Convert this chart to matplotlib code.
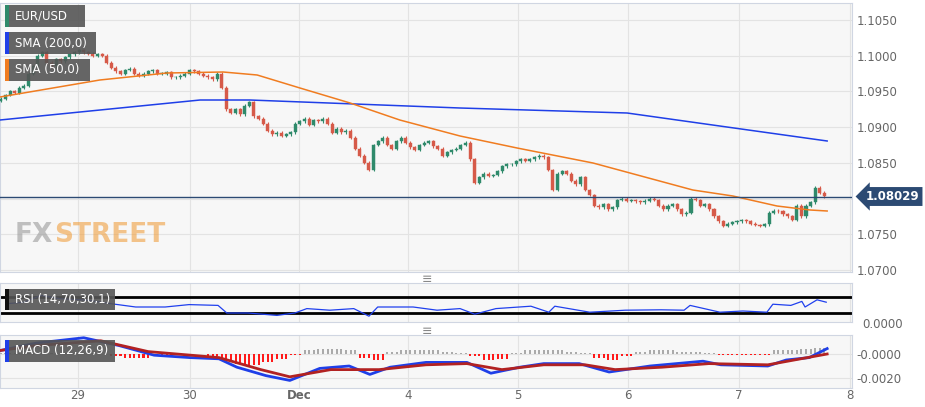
import numpy as np
import matplotlib.pyplot as plt
from matplotlib.patches import Rectangle

# hourly closes, EUR/USD
closes = [1.0940, 1.0945, 1.0950, 1.0948, 1.0955, 1.0958, 1.0975, 1.0985, 1.1000, 1.1005,
          1.0990, 1.0985, 1.0995, 1.0992, 1.0998, 1.1002, 1.1005, 1.1008, 1.1005, 1.1003,
          1.1000, 1.1002, 1.1000, 1.0990, 1.0983, 1.0978, 1.0975, 1.0980, 1.0982, 1.0975,
          1.0972, 1.0975, 1.0978, 1.0980, 1.0975, 1.0975, 1.0977, 1.0970, 1.0970, 1.0972,
          1.0975, 1.0980, 1.0978, 1.0975, 1.0972, 1.0970, 1.0967, 1.0975, 1.0955, 1.0925,
          1.0920, 1.0925, 1.0918, 1.0930, 1.0935, 1.0915, 1.0912, 1.0905, 1.0895, 1.0890,
          1.0892, 1.0888, 1.0890, 1.0893, 1.0905, 1.0908, 1.0912, 1.0903, 1.0910, 1.0908,
          1.0912, 1.0905, 1.0892, 1.0898, 1.0893, 1.0895, 1.0885, 1.0870, 1.0860, 1.0850,
          1.0840, 1.0875, 1.0880, 1.0885, 1.0875, 1.0870, 1.0880, 1.0885, 1.0878, 1.0872,
          1.0868, 1.0875, 1.0878, 1.0880, 1.0873, 1.0870, 1.0860, 1.0865, 1.0868, 1.0870,
          1.0875, 1.0878, 1.0855, 1.0822, 1.0830, 1.0835, 1.0832, 1.0833, 1.0838, 1.0845,
          1.0848, 1.0848, 1.0852, 1.0855, 1.0853, 1.0855, 1.0858, 1.0860, 1.0858, 1.0840,
          1.0812, 1.0835, 1.0838, 1.0835, 1.0825, 1.0820, 1.0830, 1.0812, 1.0805, 1.0790,
          1.0788, 1.0792, 1.0785, 1.0788, 1.0798, 1.0800, 1.0797, 1.0798, 1.0796, 1.0795,
          1.0797, 1.0800, 1.0798, 1.0790, 1.0785, 1.0790, 1.0792, 1.0785, 1.0778, 1.0780,
          1.0800, 1.0798, 1.0790, 1.0792, 1.0785, 1.0775, 1.0768, 1.0762, 1.0765, 1.0767,
          1.0768, 1.0770, 1.0768, 1.0765, 1.0763, 1.0762, 1.0764, 1.0780, 1.0783, 1.0782,
          1.0778, 1.0775, 1.0770, 1.0790, 1.0775, 1.0790, 1.0795, 1.0815, 1.0808, 1.0803]
first_open = 1.0937
last_price = 1.08029

sma50_x = [-0.2, 21.5, 36.1, 48.3, 55.7, 65, 75.9, 86.7, 99.8, 112.2, 128.7, 150.4, 159.1, 168.7, 175.9, 179.6]
sma50_y = [1.09422, 1.0966, 1.09758, 1.09772, 1.0973, 1.09548, 1.09338, 1.0910, 1.08876, 1.08708,
           1.08498, 1.0812, 1.08036, 1.07896, 1.0784, 1.07826]
sma200_x = [-0.2, 43.3, 54.1, 99.8, 136.1, 157.8, 179.6]
sma200_y = [1.0910, 1.0938, 1.0938, 1.09268, 1.09198, 1.09002, 1.08806]

rsi_x = [1.1, 5, 8.7, 12.6, 18.9, 24.1, 29.3, 35.7, 40.9, 47.2, 49.1, 53.7, 60, 63.9, 66.5, 71.5,
         76.7, 80, 81.9, 89.6, 94.8, 99.8, 103, 107.6, 115.2, 119.1, 120.4, 128, 135.7, 143.5,
         148.5, 149.8, 156.3, 161.3, 166.5, 167.8, 171.7, 174.1, 174.8, 177.4, 179.4]
rsi_y = [53, 57, 74, 66, 62, 53, 45, 45, 51, 49, 30, 30, 24, 30, 41, 37, 41, 22, 45, 45, 37, 41,
         27, 41, 47, 32, 47, 32, 37, 38, 37, 49, 32, 35, 32, 52, 49, 59, 45, 63, 57]

macd_x = [0, 7.6, 18, 25.7, 33.3, 41.1, 47.4, 51.3, 57.6, 62.8, 69.3, 75.7, 80.2, 84.6, 92.4,
          101.3, 106.5, 112.8, 118, 125.7, 132.2, 141.1, 152.6, 156.5, 166.7, 170.7, 175.7, 179.6]
macd_y = [0.0003, 0.0009, 0.00135, 0.0007, -0.0001, -0.0003, -0.0004, -0.0011, -0.0018, -0.0022,
          -0.0012, -0.0010, -0.0017, -0.0011, -0.0007, -0.0007, -0.0016, -0.0011, -0.0008, -0.0008,
          -0.0015, -0.0010, -0.0006, -0.0009, -0.0010, -0.0005, -0.0003, 0.00045]
signal_x = [0, 7.6, 21.7, 32, 47.4, 56.5, 62.8, 71.7, 82.2, 92.4, 101.3, 108.9, 118, 127, 133.5,
            143.7, 153.9, 166.7, 179.6]
signal_y = [0.0003, 0.0007, 0.0011, 0.0002, -0.0003, -0.0013, -0.0019, -0.0013, -0.0013, -0.0009,
            -0.0008, -0.0013, -0.0009, -0.0009, -0.0013, -0.0011, -0.0008, -0.0009, 0.0]
# histogram, one value per 3 hours
hist3 = [0.0001, 0.0001, 0.0001, 0.00005, 0.0001, 0.0001, 0.00005, 0.0,
         -0.0002, -0.0003, -0.0003, -0.0002, -0.0001, 0.0, 0.0,
         -0.0002, -0.0005, -0.0008, -0.0009, -0.0007, -0.0004, -0.0001,
         0.0003, 0.0004, 0.00045, 0.0003, -0.0003, -0.0005,
         0.0002, 0.0003, 0.0003, 0.0003, 0.0002, 0.0001,
         -0.0002, -0.0005, -0.0004,
         0.0001, 0.0003, 0.0003, 0.0003, 0.0002, 0.0001,
         -0.0003, -0.0005, -0.0002,
         0.0002, 0.0003, 0.0003, 0.0002, 0.0002, 0.0001,
         -0.0001, -0.0001, -0.0001, -0.00005,
         0.0003, 0.0003, 0.0004, 0.0005]

day_ticks = [16.7, 41.1, 64.8, 88.5, 112.4, 136.3, 160.4, 184.6]
day_labels = ['29', '30', 'Dec', '4', '5', '6', '7', '8']
price_ticks = [1.1050, 1.1000, 1.0950, 1.0900, 1.0850, 1.0800, 1.0750, 1.0700]

W, H = 925, 407
fig = plt.figure(figsize=(9.25, 4.07), dpi=100)
fig.patch.set_facecolor('white')

def box(x0, y0, x1, y1):
    return [x0 / W, 1 - y1 / H, (x1 - x0) / W, (y1 - y0) / H]

xl = (-0.2, 185.0)
bg = '#f7f7f7'
gridc = '#e3e3e3'
txtc = '#666666'

def style(ax):
    ax.set_facecolor(bg)
    ax.set_xlim(*xl)
    for s in ax.spines.values():
        s.set_color('#d0d6e2')
    ax.set_xticks(day_ticks)
    ax.tick_params(length=0, labelcolor=txtc, labelsize=8.5)
    ax.grid(True, color=gridc, lw=0.8)
    ax.set_axisbelow(True)
    ax.yaxis.tick_right()

def tag(ax, x, y, w, h, text, col):
    ax.add_patch(Rectangle((x, y), w, h, transform=ax.transAxes, facecolor='#555555',
                           alpha=0.9, zorder=10))
    ax.add_patch(Rectangle((x, y), 0.004, h, transform=ax.transAxes, facecolor=col, zorder=11))
    ax.text(x + 0.012, y + h / 2, text, transform=ax.transAxes, color='white', fontsize=8.5,
            va='center', zorder=12)

# main price panel
ax = fig.add_axes(box(0, 3, 852, 272))
style(ax)
ax.set_ylim(1.06972, 1.10738)
ax.set_yticks(price_ticks)
# the 1.0800 label sits under the last-price tag
ax.set_yticklabels(['' if abs(p - 1.08) < 1e-9 else '%.4f' % p for p in price_ticks])
ax.set_xticklabels([])
opens = [first_open] + closes[:-1]
green, red = '#2f8a6b', '#d65a49'
for i, (o, c) in enumerate(zip(opens, closes)):
    col = green if c >= o else red
    lo, hi = min(o, c), max(o, c)
    ax.vlines(i, lo - 0.0002, hi + 0.0002, color=col, lw=0.8, zorder=3)
    ax.add_patch(Rectangle((i - 0.33, lo), 0.66, max(hi - lo, 0.00006), facecolor=col,
                           edgecolor=col, lw=0.3, zorder=4))
ax.plot(sma200_x, sma200_y, color='#1f3fe8', lw=1.1, zorder=5)
ax.plot(sma50_x, sma50_y, color='#f07c20', lw=1.1, zorder=5)
ax.axhline(last_price, color='#2c4a73', lw=1, zorder=6)
ax.annotate('%.5f' % last_price, xy=(1.0, last_price), xycoords=('axes fraction', 'data'),
            xytext=(10, 0), textcoords='offset points', va='center', ha='left', color='white',
            fontsize=8.5, fontweight='bold', annotation_clip=False,
            bbox=dict(boxstyle='larrow,pad=0.25', fc='#2c4a73', ec='none'))
ax.text(0.017, 0.11, 'FX', transform=ax.transAxes, fontsize=19, fontweight='bold',
        color='#9a9a9a', alpha=0.6)
ax.text(0.063, 0.11, 'STREET', transform=ax.transAxes, fontsize=19, fontweight='bold',
        color='#f0a040', alpha=0.6)
tag(ax, 0.006, 0.91, 0.094, 0.082, 'EUR/USD', '#2f8a6b')
tag(ax, 0.006, 0.81, 0.107, 0.082, 'SMA (200,0)', '#1f3fe8')
tag(ax, 0.006, 0.71, 0.100, 0.082, 'SMA (50,0)', '#f07c20')

# RSI panel
ax2 = fig.add_axes(box(0, 283, 852, 322))
style(ax2)
ax2.set_ylim(7.5, 105)
ax2.set_yticks([])
ax2.set_xticklabels([])
ax2.axhline(70, color='black', lw=2)
ax2.axhline(30, color='black', lw=2)
ax2.plot(rsi_x, rsi_y, color='#2040ee', lw=0.9)
tag(ax2, 0.006, 0.3, 0.129, 0.55, 'RSI (14,70,30,1)', '#111111')
fig.text(862 / W, 1 - 325 / H, '0.0000', color=txtc, fontsize=8.5, va='center')

# MACD panel
ax3 = fig.add_axes(box(0, 335, 852, 388))
style(ax3)
ax3.set_ylim(-0.00283, 0.00158)
ax3.set_yticks([0.0, -0.0020])
ax3.set_yticklabels(['-0.0000', '-0.0020'])
ax3.set_xticklabels(day_labels)
ax3.tick_params(axis='x', pad=1)
ax3.get_xticklabels()[2].set_fontweight('bold')
hist = np.repeat(hist3, 3)
hcol = ['#aaaaaa' if h >= 0 else '#ff1a1a' for h in hist]
ax3.bar(np.arange(len(hist)), hist, width=0.45, color=hcol, zorder=3)
ax3.plot(macd_x, macd_y, color='#1f3fe8', lw=2, zorder=4)
ax3.plot(signal_x, signal_y, color='#b22222', lw=2, zorder=5)
tag(ax3, 0.006, 0.5, 0.129, 0.4, 'MACD (12,26,9)', '#1f3fe8')

for yy in (279, 331):
    fig.text(427 / W, 1 - yy / H, '\u2261', color='#888888', fontsize=9, ha='center', va='center')

fig.savefig('out.png', dpi=100)
